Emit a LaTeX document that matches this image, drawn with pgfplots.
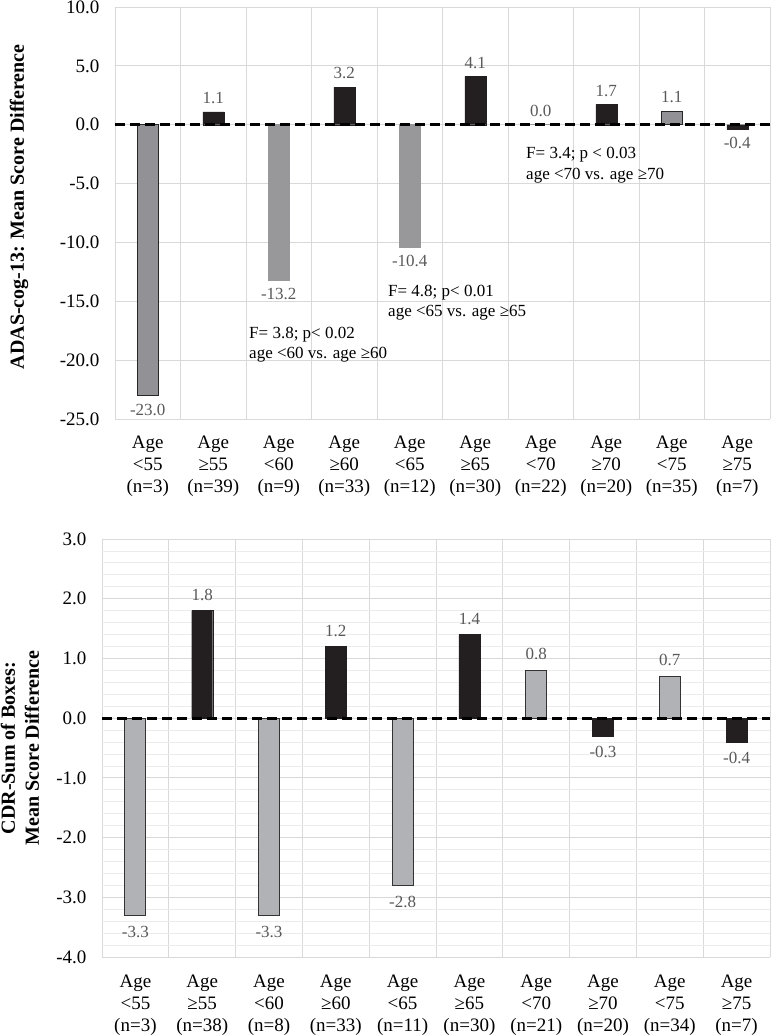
\documentclass[border=0pt]{standalone}
\usepackage{fontspec}
\setmainfont{Liberation Serif}
\usepackage{pgfplots}
\pgfplotsset{compat=1.18}
\definecolor{barblack}{RGB}{35,31,32}
\definecolor{gA}{RGB}{146,146,150}
\definecolor{gB}{RGB}{152,152,155}
\definecolor{gC}{RGB}{177,178,182}
\definecolor{lbl}{RGB}{89,89,89}
\definecolor{gridc}{RGB}{217,217,217}
\definecolor{gridminor}{RGB}{236,236,236}
\newcommand{\tfont}{\fontsize{19}{22}\selectfont}
\newcommand{\vfont}{\fontsize{17}{20}\selectfont}
\newcommand{\afont}{\fontsize{17}{20.5}\selectfont}
\newcommand{\lfont}{\fontsize{20}{24}\selectfont\bfseries}

\pgfplotsset{
  common/.style={
    scale only axis,
    ybar, bar width=21pt, bar shift=0pt,
    xmin=-0.5, xmax=9.5,
    xtick={0,...,9},
    minor xtick={-0.5,0.5,...,9.5},
    xminorgrids=true, ymajorgrids=true,
    axis line style={draw=none},
    major tick length=0pt, minor tick length=0pt,
    tick style={draw=none},
    minor x grid style={gridc, line width=0.8pt},
    major y grid style={gridc, line width=0.8pt},
    /pgf/number format/assume math mode=true,
    /pgf/number format/fixed,
    /pgf/number format/fixed zerofill,
    /pgf/number format/precision=1,
    tick label style={font=\tfont, black},
    xticklabel style={align=center, anchor=north, yshift=-13pt},
    yticklabel style={xshift=-12pt},
    ylabel style={font=\lfont, align=center},
    nodes near coords,
    every node near coord/.append style={font=\vfont, color=lbl, inner ysep=8pt},
  }
}

\begin{document}
\begin{tikzpicture}
\useasboundingbox (0,0) rectangle (771pt,1036pt);

% ---------- top panel ----------
\begin{axis}[common,
  at={(115pt,617pt)}, anchor=south west,
  width=655pt, height=412pt,
  ymin=-25, ymax=10, ytick={-25,-20,...,10},
  xticklabels={{Age\\<55\\(n=3)},{Age\\≥55\\(n=39)},{Age\\<60\\(n=9)},{Age\\≥60\\(n=33)},{Age\\<65\\(n=12)},{Age\\≥65\\(n=30)},{Age\\<70\\(n=22)},{Age\\≥70\\(n=20)},{Age\\<75\\(n=35)},{Age\\≥75\\(n=7)}},
  ylabel={ADAS-cog-13: Mean Score Difference},
  ylabel style={at={(axis description cs:-0.1466,0.515)}, anchor=center},
]
\addplot[fill=gA, draw=black!85, line width=1.1pt] coordinates {(0,-23.0) (8,1.1)};
\addplot[fill=gB, draw=gB, line width=0.6pt] coordinates {(2,-13.2) (4,-10.4) (6,0.0)};
\addplot[fill=barblack, draw=barblack] coordinates {(1,1.1) (3,3.2) (5,4.1) (7,1.7) (9,-0.4)};
\draw[black, line width=3pt, dash pattern=on 10pt off 5pt] (axis cs:-0.5,0) -- (axis cs:9.5,0);
\node[anchor=west, align=left, font=\afont, inner sep=0pt] at (axis cs:1.546,-18.7) {F= 3.8; p< 0.02\\age <60 vs. age ≥60};
\node[anchor=west, align=left, font=\afont, inner sep=0pt] at (axis cs:3.668,-15.1) {F= 4.8; p< 0.01\\age <65 vs. age ≥65};
\node[anchor=west, align=left, font=\afont, inner sep=0pt] at (axis cs:5.775,-3.43) {F= 3.4; p < 0.03\\age <70 vs. age ≥70};
\end{axis}

% ---------- bottom panel ----------
\begin{axis}[common,
  at={(102pt,79pt)}, anchor=south west,
  width=668pt, height=418pt,
  ymin=-4, ymax=3, ytick={-4,...,3},
  minor y tick num=4, yminorgrids=true,
  minor y grid style={gridminor, line width=0.8pt},
  xticklabel style={yshift=-1pt},
  xticklabels={{Age\\<55\\(n=3)},{Age\\≥55\\(n=38)},{Age\\<60\\(n=8)},{Age\\≥60\\(n=33)},{Age\\<65\\(n=11)},{Age\\≥65\\(n=30)},{Age\\<70\\(n=21)},{Age\\≥70\\(n=20)},{Age\\<75\\(n=34)},{Age\\≥75\\(n=7)}},
  ylabel={CDR-Sum of Boxes:\\Mean Score Difference},
  ylabel style={at={(axis description cs:-0.1228,0.5)}, anchor=center},
  every node near coord/.append style={inner ysep=10pt},
]
\addplot[fill=gC, draw=black!80, line width=1.1pt] coordinates {(0,-3.3) (2,-3.3) (4,-2.8) (6,0.8) (8,0.7)};
\addplot[fill=barblack, draw=barblack] coordinates {(1,1.8) (3,1.2) (5,1.4) (7,-0.3) (9,-0.4)};
\draw[black, line width=3pt, dash pattern=on 10pt off 5pt] (axis cs:-0.5,0) -- (axis cs:9.5,0);
\end{axis}
\end{tikzpicture}
\end{document}
